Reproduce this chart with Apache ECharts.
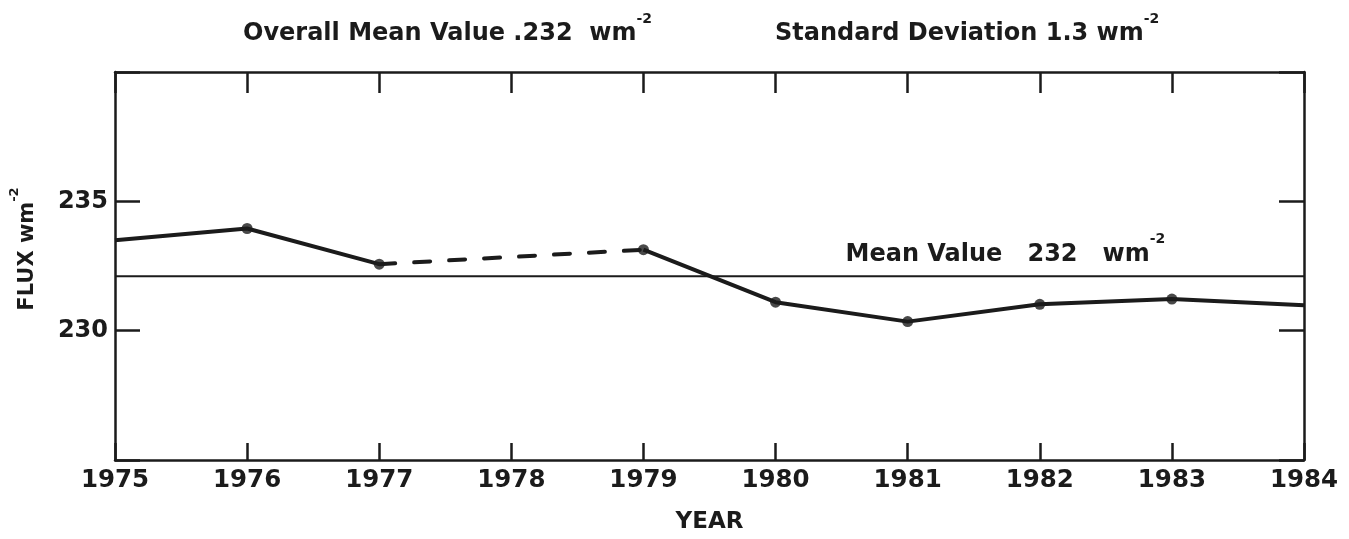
<!DOCTYPE html>
<html>
<head>
<meta charset="utf-8">
<script src="https://cdn.jsdelivr.net/npm/echarts@6/dist/echarts.min.js"></script>
<style>
html,body{margin:0;padding:0;background:#fff;}
#c{width:1349px;height:539px;}
</style>
</head>
<body>
<div id="c"></div>
<script>
// ---- data ----
const years = [1975, 1976, 1977, 1978, 1979, 1980, 1981, 1982, 1983, 1984];
const flux = [233.5, 233.95, 232.57, null, 233.13, 231.1, 230.35, 231.02, 231.22, 230.98];
const dashedYears = [1977, 1979];
const markedYears = [1976, 1977, 1979, 1980, 1981, 1982, 1983];
const meanValue = 232.1;
const meanLabelYear = 1981.74;
const yTickLabels = [230, 235];
const titleLeft = ['Overall Mean Value .232  wm', '-2'];
const titleRight = ['Standard Deviation 1.3 wm', '-2'];
const meanLabel = ['Mean Value   232   wm', '-2'];
const yName = ['FLUX wm', '-2'];
const xName = 'YEAR';

const INK = '#1b1b1b';
const FONT = 'DejaVu Sans';

const valueAt = y => flux[years.indexOf(y)];
const solidData = years.map((y, i) => [y, flux[i]]);
const dashedData = dashedYears.map(y => [y, valueAt(y)]);
const markerData = markedYears.map(y => [y, valueAt(y)]);

const supRich = (size, extra) => ({
  t: { fontFamily: FONT, fontWeight: 'bold', fontSize: size, color: INK, lineHeight: size + extra },
  s: { fontFamily: FONT, fontWeight: 'bold', fontSize: Math.round(size * 0.6), color: INK,
       verticalAlign: 'top', lineHeight: Math.round(size * 0.6) }
});

const chart = echarts.init(document.getElementById('c'), null, { renderer: 'canvas' });
chart.setOption({
  backgroundColor: '#ffffff',
  animation: false,
  title: [
    { text: '{t|' + titleLeft[0] + '}{s|' + titleLeft[1] + '}', left: 243, top: 12, padding: 0,
      textStyle: { rich: supRich(24, 20) } },
    { text: '{t|' + titleRight[0] + '}{s|' + titleRight[1] + '}', left: 775, top: 12, padding: 0,
      textStyle: { rich: supRich(24, 20) } }
  ],
  grid: { left: 109, right: 45, top: 72, bottom: 71, containLabel: false },
  xAxis: [
    { type: 'value', min: 1975, max: 1984, interval: 1, position: 'bottom',
      name: xName, nameLocation: 'middle', nameGap: 51,
      nameTextStyle: { fontFamily: FONT, fontWeight: 'bold', fontSize: 23, color: INK },
      axisLine: { show: true, lineStyle: { color: INK, width: 2.5 } },
      axisTick: { show: true, inside: true, length: 17, lineStyle: { color: INK, width: 2.5 } },
      axisLabel: { show: true, margin: 8, fontFamily: FONT, fontWeight: 'bold', fontSize: 24.5, color: INK,
        formatter: v => String(v) },
      splitLine: { show: false } },
    { type: 'value', min: 1975, max: 1984, interval: 1, position: 'top',
      axisLine: { show: true, lineStyle: { color: INK, width: 2.5 } },
      axisTick: { show: true, inside: true, length: 21, lineStyle: { color: INK, width: 2.5 } },
      axisLabel: { show: false }, splitLine: { show: false } }
  ],
  yAxis: [
    { type: 'value', min: 225, max: 240, interval: 5, position: 'left',
      name: '{t|' + yName[0] + '}{s|' + yName[1] + '}', nameLocation: 'middle', nameGap: 68, nameRotate: 90,
      nameTextStyle: { rich: supRich(21, 18), padding: [0, 0, 0, 34] },
      axisLine: { show: true, lineStyle: { color: INK, width: 2.5 } },
      axisTick: { show: true, inside: true, length: 25, lineStyle: { color: INK, width: 2.5 } },
      axisLabel: { show: true, margin: 7, fontFamily: FONT, fontWeight: 'bold', fontSize: 24, color: INK,
        formatter: v => yTickLabels.indexOf(v) >= 0 ? String(v) : '' },
      splitLine: { show: false } },
    { type: 'value', min: 225, max: 240, interval: 5, position: 'right',
      axisLine: { show: true, lineStyle: { color: INK, width: 2.5 } },
      axisTick: { show: true, inside: true, length: 25, lineStyle: { color: INK, width: 2.5 } },
      axisLabel: { show: false }, splitLine: { show: false } }
  ],
  series: [
    { name: 'mean', type: 'line', data: [[years[0], meanValue], [years[years.length - 1], meanValue]],
      symbol: 'none', lineStyle: { color: INK, width: 2 }, z: 2,
      markPoint: {
        symbol: 'circle', symbolSize: 0,
        data: [{ coord: [meanLabelYear, meanValue] }],
        label: { show: true, position: 'inside', offset: [0, -22],
          formatter: '{t|' + meanLabel[0] + '}{s|' + meanLabel[1] + '}', rich: supRich(24, 20) }
      } },
    { name: 'flux', type: 'line', data: solidData, connectNulls: false, symbol: 'none',
      lineStyle: { color: INK, width: 4 }, z: 3 },
    { name: 'gap', type: 'line', data: dashedData, symbol: 'none',
      lineStyle: { color: INK, width: 4, type: [16, 19], cap: 'round' }, z: 3 },
    { name: 'points', type: 'scatter', data: markerData, symbol: 'circle', symbolSize: 11,
      itemStyle: { color: INK }, z: 4 }
  ]
});
</script>
</body>
</html>
